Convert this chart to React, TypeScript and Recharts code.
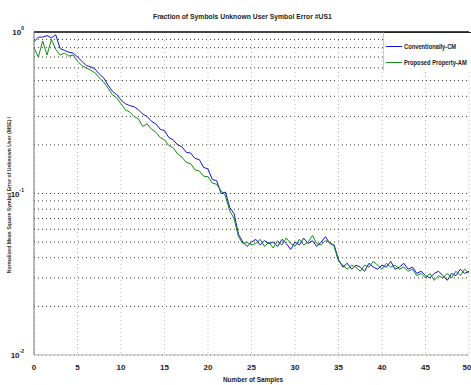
import React from "react";
import {
  LineChart,
  Line,
  XAxis,
  YAxis,
  CartesianGrid,
  ReferenceLine,
} from "recharts";

// symbol index, step 0.5
const samples = [
  0, 0.5, 1, 1.5, 2, 2.5, 3, 3.5, 4, 4.5, 5, 5.5, 6, 6.5, 7, 7.5, 8, 8.5, 9, 9.5,
  10, 10.5, 11, 11.5, 12, 12.5, 13, 13.5, 14, 14.5, 15, 15.5, 16, 16.5, 17, 17.5,
  18, 18.5, 19, 19.5, 20, 20.5, 21, 21.5, 22, 22.5, 23, 23.5, 24, 24.5, 25, 25.5,
  26, 26.5, 27, 27.5, 28, 28.5, 29, 29.5, 30, 30.5, 31, 31.5, 32, 32.5, 33, 33.5,
  34, 34.5, 35, 35.5, 36, 36.5, 37, 37.5, 38, 38.5, 39, 39.5, 40, 40.5, 41, 41.5,
  42, 42.5, 43, 43.5, 44, 44.5, 45, 45.5, 46, 46.5, 47, 47.5, 48, 48.5, 49, 49.5, 50,
];

const conventional = [
  0.87, 0.93, 0.93, 0.95, 0.92, 0.96, 0.79, 0.77, 0.75, 0.74, 0.7, 0.66, 0.62, 0.61,
  0.59, 0.55, 0.52, 0.47, 0.43, 0.41, 0.38, 0.36, 0.35, 0.345, 0.33, 0.31, 0.3, 0.28,
  0.27, 0.25, 0.245, 0.222, 0.215, 0.2, 0.195, 0.18, 0.178, 0.165, 0.162, 0.145, 0.142,
  0.122, 0.12, 0.1, 0.102, 0.082, 0.075, 0.056, 0.05, 0.047, 0.05, 0.052, 0.048,
  0.051, 0.049, 0.05, 0.047, 0.052, 0.049, 0.045, 0.05, 0.048, 0.053, 0.049, 0.051,
  0.047, 0.05, 0.054, 0.049, 0.048, 0.039, 0.035, 0.037, 0.034, 0.036, 0.035, 0.033,
  0.037, 0.035, 0.034, 0.036, 0.035, 0.038, 0.034, 0.035, 0.037, 0.034, 0.035, 0.032,
  0.033, 0.031, 0.03, 0.032, 0.033, 0.031, 0.029, 0.032, 0.031, 0.034, 0.032, 0.033,
];

const proposed = [
  0.8, 0.7, 0.88, 0.72, 0.9, 0.78, 0.72, 0.74, 0.71, 0.72, 0.66, 0.62, 0.6, 0.58,
  0.56, 0.52, 0.49, 0.45, 0.41, 0.39, 0.36, 0.33, 0.32, 0.3, 0.29, 0.26, 0.27, 0.25,
  0.24, 0.222, 0.215, 0.198, 0.192, 0.176, 0.168, 0.156, 0.153, 0.14, 0.138, 0.128, 0.127,
  0.116, 0.114, 0.104, 0.097, 0.078, 0.07, 0.054, 0.049, 0.05, 0.048, 0.049, 0.052,
  0.047, 0.05, 0.046, 0.051, 0.048, 0.053, 0.049, 0.047, 0.052, 0.048, 0.05, 0.055,
  0.049, 0.048, 0.051, 0.05, 0.047, 0.038, 0.036, 0.034, 0.036, 0.035, 0.033, 0.036,
  0.035, 0.038, 0.036, 0.034, 0.037, 0.035, 0.036, 0.034, 0.035, 0.033, 0.034, 0.031,
  0.032, 0.03, 0.032, 0.029, 0.031, 0.03, 0.032, 0.03, 0.033, 0.031, 0.034, 0.032,
];

const xTicks = [0, 5, 10, 15, 20, 25, 30, 35, 40, 45, 50];
const yTicks = [
  0.01, 0.02, 0.03, 0.04, 0.05, 0.06, 0.07, 0.08, 0.09,
  0.1, 0.2, 0.3, 0.4, 0.5, 0.6, 0.7, 0.8, 0.9, 1,
];
const decades = [0.01, 0.1, 1];
const decadeExp = ["-2", "-1", "0"];

const seriesNames = ["Conventionally-CM", "Proposed Property-AM"];
const seriesColors = ["#1010e0", "#138a13"];

const rows = samples.map((x, i) => ({
  x,
  conventional: conventional[i],
  proposed: proposed[i],
}));

const FONT = "'Liberation Sans', Arial, sans-serif";

function YTick(props: any) {
  const { x, y, payload } = props;
  const idx = decades.indexOf(payload.value);
  if (idx < 0) return <g />;
  return (
    <text x={x - 2} y={y + 3} textAnchor="end" fontSize={8} fontWeight="bold" fill="#222" fontFamily={FONT}>
      10
      <tspan dy={-5} fontSize={5}>
        {decadeExp[idx]}
      </tspan>
    </text>
  );
}

const squeeze: React.CSSProperties = {
  display: "inline-block",
  transform: "scaleX(0.72)",
  transformOrigin: "left center",
  whiteSpace: "nowrap",
};

export default function App() {
  return (
    <div
      style={{
        position: "absolute",
        left: 0,
        top: 0,
        width: 471,
        height: 385,
        background: "#fff",
        fontFamily: FONT,
        overflow: "hidden",
      }}
    >
      <div
        style={{
          position: "absolute",
          top: 12,
          left: 153,
          fontSize: 8,
          fontWeight: "bold",
          color: "#222",
          whiteSpace: "nowrap",
          transform: "scaleX(0.85)",
          transformOrigin: "left center",
        }}
      >
        Fraction of Symbols Unknown User Symbol Error #US1
      </div>
      <div
        style={{
          position: "absolute",
          top: 375,
          left: 223,
          fontSize: 8,
          fontWeight: "bold",
          color: "#222",
          whiteSpace: "nowrap",
          transform: "scaleX(0.8)",
          transformOrigin: "left center",
        }}
      >
        Number of Samples
      </div>
      <div
        style={{
          position: "absolute",
          left: 9,
          top: 195,
          transform: "translate(-50%, -50%) rotate(-90deg) scaleX(0.85)",
          fontSize: 6,
          fontWeight: "bold",
          color: "#333",
          whiteSpace: "nowrap",
        }}
      >
        Normalized Mean Square Symbol Error of Unknown User (MSE) /
      </div>
      <LineChart
        width={471}
        height={385}
        data={rows}
        margin={{ top: 32, right: 2, bottom: 0, left: 10 }}
      >
        <CartesianGrid stroke="#333" strokeDasharray="1 3" vertical={false} />
        <CartesianGrid stroke="#bbb" strokeDasharray="1 3" horizontal={false} />
        <XAxis
          dataKey="x"
          type="number"
          domain={[0, 50]}
          ticks={xTicks}
          height={30}
          tickLine={false}
          axisLine={{ stroke: "#bbb" }}
          tick={{ fontSize: 8, fontWeight: "bold", fill: "#222", fontFamily: FONT }}
          tickMargin={3}
        />
        <YAxis
          type="number"
          scale="log"
          domain={[0.01, 1]}
          ticks={yTicks}
          allowDataOverflow
          width={24}
          tickLine={false}
          axisLine={{ stroke: "#777" }}
          tick={<YTick />}
          interval={0}
        />
        <ReferenceLine y={1} stroke="#111" strokeWidth={1.5} />
        <Line
          dataKey="conventional"
          stroke={seriesColors[0]}
          strokeWidth={1}
          dot={false}
          type="linear"
          isAnimationActive={false}
        />
        <Line
          dataKey="proposed"
          stroke={seriesColors[1]}
          strokeWidth={1}
          dot={false}
          type="linear"
          isAnimationActive={false}
        />
      </LineChart>
      <div
        style={{
          position: "absolute",
          left: 383,
          top: 32,
          width: 100,
          height: 38,
          borderTop: "1px solid #222",
          borderLeft: "1px solid #ccc",
          background: "#fff",
          fontSize: 8,
          fontWeight: "bold",
          color: "#222",
        }}
      >
        {seriesNames.map((name, i) => (
          <div
            key={name}
            style={{
              display: "flex",
              alignItems: "center",
              height: 15,
              marginTop: i === 0 ? 6 : 1,
            }}
          >
            <span
              style={{
                display: "inline-block",
                width: 16,
                height: 0,
                borderTop: `1px solid ${seriesColors[i]}`,
                marginLeft: 2,
                marginRight: 2,
                flexShrink: 0,
              }}
            />
            <span style={squeeze}>{name}</span>
          </div>
        ))}
      </div>
    </div>
  );
}
